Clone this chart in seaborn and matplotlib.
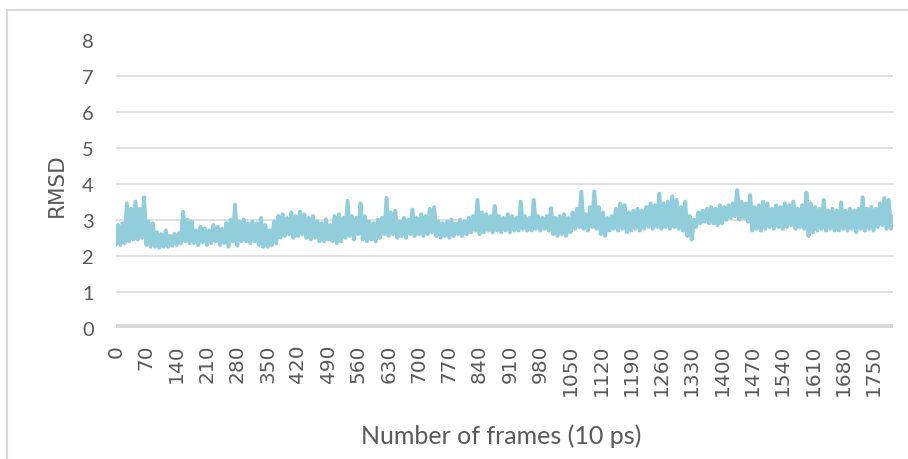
import matplotlib
matplotlib.use("Agg")
import matplotlib.pyplot as plt
from matplotlib.patches import Rectangle
import seaborn as sns
import pandas as pd

# Upper (local peak) and lower (local trough) RMSD,
# one pair per 10-frame block, frames 0..1799
rmsd_high = [
    2.85, 2.90, 3.45, 3.30, 3.50, 3.30, 3.62, 2.95, 2.90, 2.65,
    2.60, 2.70, 2.55, 2.60, 2.62, 3.22, 3.00, 2.95, 2.70, 2.80,
    2.75, 2.70, 2.85, 2.80, 2.75, 2.90, 3.00, 3.42, 2.95, 3.00,
    2.90, 2.95, 2.90, 3.05, 2.85, 2.70, 2.95, 3.10, 3.15, 3.05,
    3.20, 3.10, 3.22, 3.15, 3.05, 3.10, 2.95, 2.90, 3.00, 2.85,
    3.10, 3.15, 3.05, 3.52, 3.10, 3.05, 3.45, 3.10, 2.95, 2.90,
    3.00, 3.05, 3.60, 3.20, 3.25, 2.95, 3.05, 3.00, 3.28, 3.05,
    3.15, 3.10, 3.30, 3.35, 2.95, 2.90, 2.95, 3.00, 2.90, 3.00,
    2.95, 3.05, 3.10, 3.55, 3.20, 3.15, 3.10, 3.38, 3.10, 3.05,
    3.15, 3.10, 3.05, 3.50, 3.10, 3.05, 3.55, 3.10, 3.05, 3.10,
    3.32, 3.05, 3.10, 3.15, 3.05, 3.20, 3.30, 3.78, 3.15, 3.35,
    3.78, 3.35, 3.20, 3.05, 3.10, 3.30, 3.45, 3.40, 3.20, 3.25,
    3.30, 3.25, 3.35, 3.45, 3.40, 3.72, 3.45, 3.50, 3.65, 3.55,
    3.35, 3.50, 3.10, 3.00, 3.20, 3.25, 3.30, 3.35, 3.30, 3.40,
    3.35, 3.40, 3.45, 3.82, 3.50, 3.45, 3.68, 3.35, 3.40, 3.50,
    3.45, 3.30, 3.40, 3.35, 3.45, 3.40, 3.50, 3.30, 3.40, 3.75,
    3.45, 3.35, 3.30, 3.55, 3.25, 3.30, 3.25, 3.48, 3.25, 3.30,
    3.25, 3.30, 3.62, 3.30, 3.35, 3.30, 3.45, 3.60, 3.55, 3.10,
]
rmsd_low = [
    2.30, 2.30, 2.35, 2.40, 2.45, 2.45, 2.50, 2.30, 2.25, 2.25,
    2.22, 2.25, 2.25, 2.28, 2.30, 2.35, 2.40, 2.35, 2.35, 2.30,
    2.38, 2.30, 2.35, 2.40, 2.30, 2.35, 2.25, 2.40, 2.28, 2.40,
    2.40, 2.35, 2.40, 2.30, 2.25, 2.25, 2.30, 2.35, 2.50, 2.55,
    2.60, 2.50, 2.55, 2.60, 2.50, 2.45, 2.50, 2.40, 2.40, 2.45,
    2.40, 2.35, 2.40, 2.50, 2.55, 2.45, 2.60, 2.45, 2.40, 2.45,
    2.40, 2.50, 2.60, 2.55, 2.60, 2.50, 2.55, 2.50, 2.60, 2.55,
    2.60, 2.55, 2.60, 2.65, 2.55, 2.50, 2.55, 2.50, 2.55, 2.60,
    2.55, 2.60, 2.65, 2.70, 2.60, 2.65, 2.70, 2.65, 2.70, 2.65,
    2.70, 2.65, 2.70, 2.70, 2.75, 2.70, 2.70, 2.75, 2.70, 2.75,
    2.70, 2.60, 2.55, 2.60, 2.55, 2.65, 2.75, 2.80, 2.75, 2.70,
    2.80, 2.75, 2.60, 2.55, 2.70, 2.75, 2.70, 2.75, 2.65, 2.70,
    2.75, 2.70, 2.75, 2.80, 2.75, 2.80, 2.75, 2.80, 2.75, 2.80,
    2.75, 2.70, 2.55, 2.45, 2.80, 2.90, 2.95, 2.90, 2.90, 2.85,
    2.90, 3.00, 3.05, 3.10, 3.00, 3.05, 2.95, 2.70, 2.75, 2.70,
    2.75, 2.80, 2.75, 2.80, 2.75, 2.80, 2.85, 2.75, 2.80, 2.75,
    2.55, 2.65, 2.70, 2.75, 2.70, 2.75, 2.70, 2.70, 2.75, 2.70,
    2.75, 2.65, 2.75, 2.70, 2.75, 2.70, 2.80, 2.85, 2.75, 2.75,
]
tick_frames = list(range(0, 1751, 70))
y_ticks = [0, 1, 2, 3, 4, 5, 6, 7, 8]

frames, values = [], []
for i, (lo, hi) in enumerate(zip(rmsd_low, rmsd_high)):
    frames += [10 * i, 10 * i + 5]
    values += [lo, hi]
df = pd.DataFrame({"frame": frames, "rmsd": values})

sns.set_style("white")
plt.rcParams["font.family"] = ["DejaVu Sans"]

W, H = 908, 460
fig = plt.figure(figsize=(W / 100, H / 100), dpi=100)
left, right, top, bottom = 116, 893, 40.7, 328.7
ax = fig.add_axes([left / W, 1 - bottom / H, (right - left) / W, (bottom - top) / H])

grid_c = "#D9D9D9"
text_c = "#595959"
for v in y_ticks[1:-1]:
    ax.axhline(v, color=grid_c, lw=1.1, zorder=0)
ax.axhline(0, color=grid_c, lw=6.5, zorder=1, solid_capstyle="butt")

sns.lineplot(data=df, x="frame", y="rmsd", ax=ax, color="#92CDDC", lw=2.9,
             estimator=None, sort=False, zorder=3)
for ln in ax.get_lines():
    ln.set_solid_joinstyle("round")
    ln.set_solid_capstyle("round")

ax.set_xlim(0, 1795)
ax.set_ylim(0, 8)
ax.set_xticks(tick_frames)
ax.set_xticklabels([str(t) for t in tick_frames], rotation=90, fontsize=14.5,
                   color=text_c, family="DejaVu Sans")
ax.set_yticks(y_ticks)
ax.set_yticklabels([str(t) for t in y_ticks], fontsize=14.5, color=text_c,
                   family="Lato")
ax.tick_params(axis="x", length=0, pad=11.5)
ax.tick_params(axis="y", length=0, pad=16)
ax.set_xlabel("")
ax.set_ylabel("")
for s in ax.spines.values():
    s.set_visible(False)
ax.grid(False)

fig.text(57 / W, 1 - 185 / H, "RMSD", rotation=90, ha="center", va="center",
         fontsize=15.5, color=text_c, family="DejaVu Sans")
fig.text(501 / W, 1 - 436 / H, "Number of frames (10 ps)", ha="center",
         va="center", fontsize=18, color=text_c, family="Lato")

fig.patches.append(Rectangle((7 / W, -0.1), 1.2, (H - 11) / H + 0.1,
                             transform=fig.transFigure, fill=False,
                             ec=grid_c, lw=1.5))

fig.savefig("out.png", dpi=100)
